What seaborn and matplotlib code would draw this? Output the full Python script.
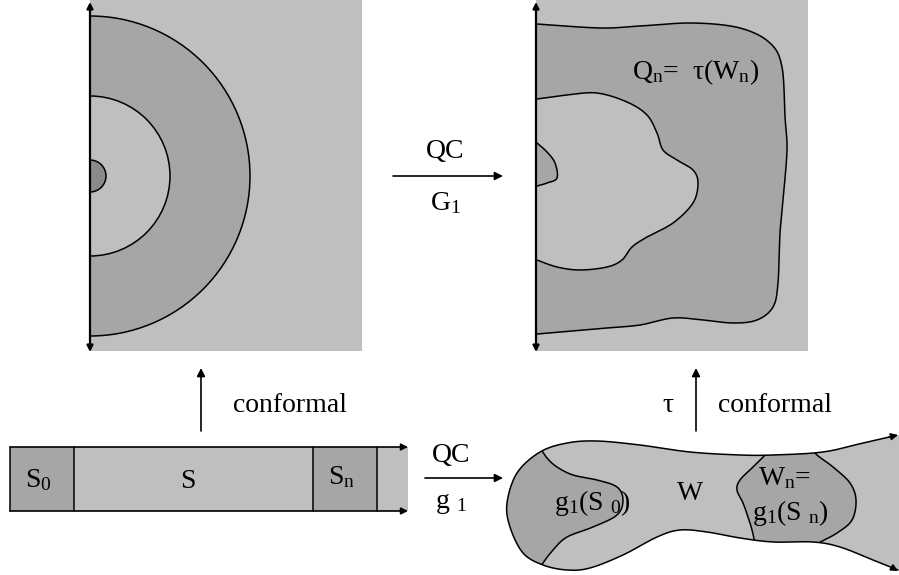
"""
Conformal / quasiconformal maps diagram: half-disc, strip, and their images.
"""
import numpy as np
import matplotlib.pyplot as plt
import seaborn as sns
from matplotlib.patches import Rectangle, Wedge, Polygon, FancyArrowPatch

sns.set_theme(style="white")
plt.rcParams['font.family'] = ['Liberation Serif', 'DejaVu Serif']
plt.rcParams['text.color'] = 'black'
plt.rcParams['mathtext.fontset'] = 'custom'
plt.rcParams['mathtext.rm'] = 'Liberation Serif'
plt.rcParams['mathtext.it'] = 'Liberation Serif:italic'

LIGHT = '#bfbfbf'
DARK = '#a6a6a6'
DARKEST = '#8a8a8a'

# ---- outline control points (pixel coordinates) ----
# top-left: half-disc radii, centre on the axis
half_disc_centre = (90, 176)
half_disc_radii = [160, 80, 16]

# top-right: image Q_n = tau(W_n)
q_outer = [(537, 24), (600, 28), (640, 26), (693, 23), (740, 28), (770, 43),
           (782, 67), (785, 117), (787, 150), (783, 200), (780, 233), (778, 283),
           (773, 307), (757, 320), (733, 323), (703, 320), (673, 318), (640, 325),
           (607, 328), (537, 334)]
q_inner = [(537, 99), (567, 95), (597, 93), (627, 102), (647, 115), (657, 133),
           (663, 150), (677, 160), (693, 170), (698, 183), (693, 203), (673, 223),
           (647, 237), (632, 247), (622, 260), (607, 267), (580, 270), (557, 267),
           (537, 260)]
q_small = [(537, 143), (547, 152), (555, 163), (557, 178), (547, 183), (537, 186)]

# bottom-left: strip cells (x edges)
strip_x = [10, 74, 313, 377, 408]
strip_y = (447, 511)

# bottom-right: domain W
w_outline = [(898, 435), (863, 443), (823, 452), (773, 455), (740, 455), (690, 452),
             (640, 445), (597, 441), (567, 443), (540, 452), (517, 473), (507, 503),
             (510, 527), (523, 553), (543, 565), (567, 570), (590, 568), (623, 555),
             (657, 537), (680, 530), (707, 532), (740, 538), (773, 542), (813, 542),
             (840, 547), (873, 560), (898, 570)]
g1s0_edge = [(540, 448), (547, 458), (557, 467), (573, 475), (597, 480), (617, 487),
             (623, 500), (617, 515), (593, 527), (567, 537), (553, 550), (543, 563),
             (538, 572)]
wn_left = [(770, 448), (765, 455), (753, 467), (740, 480), (737, 490), (743, 503),
           (748, 517), (752, 530), (755, 544), (756, 552)]
wn_right = [(812, 448), (817, 455), (833, 467), (850, 483), (856, 500), (852, 520),
            (837, 533), (817, 544), (812, 550)]


def smooth(pts, n=12):
    """Catmull-Rom curve through the control points."""
    p = np.asarray(pts, dtype=float)
    p = np.vstack([p[0], p, p[-1]])
    out = []
    for i in range(1, len(p) - 2):
        p0, p1, p2, p3 = p[i - 1], p[i], p[i + 1], p[i + 2]
        for t in np.linspace(0, 1, n, endpoint=False):
            t2, t3 = t * t, t * t * t
            out.append(0.5 * ((2 * p1) + (-p0 + p2) * t
                              + (2 * p0 - 5 * p1 + 4 * p2 - p3) * t2
                              + (-p0 + 3 * p1 - 3 * p2 + p3) * t3))
    out.append(p[-2])
    return np.array(out)


def arrow(ax, a, b, style='-|>', lw=1.2, ms=12):
    ax.add_patch(FancyArrowPatch(a, b, arrowstyle=style, mutation_scale=ms,
                                 lw=lw, color='black', shrinkA=0, shrinkB=0))


fig = plt.figure(figsize=(8.99, 5.75), dpi=100)
ax = fig.add_axes([0, 0, 1, 1])
ax.set_xlim(0, 899)
ax.set_ylim(575, 0)
ax.axis('off')

LW = 1.1
FS = 20

# ---------------- top-left panel ----------------
ax.add_patch(Rectangle((90, 0), 272, 351, color=LIGHT, lw=0))
for r, col in zip(half_disc_radii, [DARK, LIGHT, DARKEST]):
    ax.add_patch(Wedge(half_disc_centre, r, -90, 90, facecolor=col,
                       edgecolor='black', lw=LW))
arrow(ax, (90, 352), (90, 2), style='<|-|>', lw=1.6, ms=9)

# ---------------- top-right panel ----------------
ax.add_patch(Rectangle((536, 0), 272, 351, color=LIGHT, lw=0))
for pts, col in [(q_outer, DARK), (q_inner, LIGHT), (q_small, DARK)]:
    c = smooth(pts)
    ax.add_patch(Polygon(c, closed=True, facecolor=col, edgecolor='none'))
    ax.plot(c[:, 0], c[:, 1], color='black', lw=LW)
arrow(ax, (536, 352), (536, 2), style='<|-|>', lw=1.6, ms=9)
ax.text(696, 72, r'Q$_\mathrm{n}$=  τ(W$_\mathrm{n}$)', fontsize=FS,
        ha='center', va='center')

# top middle arrow
arrow(ax, (393, 176), (503, 176))
ax.text(445, 152, 'QC', fontsize=FS, ha='center', va='center')
ax.text(445, 203, r'G$_\mathrm{1}$', fontsize=FS, ha='center', va='center')

# ---------------- bottom-left strip ----------------
y0, y1 = strip_y
ax.add_patch(Rectangle((strip_x[0], y0), strip_x[-1] - strip_x[0], y1 - y0,
                       color=LIGHT, lw=0))
for xa, xb in [(strip_x[0], strip_x[1]), (strip_x[2], strip_x[3])]:
    ax.add_patch(Rectangle((xa, y0), xb - xa, y1 - y0, facecolor=DARK,
                           edgecolor='none'))
for x in strip_x[:4]:
    ax.plot([x, x], [y0, y1], color='black', lw=LW)
arrow(ax, (strip_x[0], y0), (strip_x[-1], y0), ms=10)
arrow(ax, (strip_x[0], y1), (strip_x[-1], y1), ms=10)
ax.text(38, 480, r'S$_\mathrm{0}$', fontsize=FS, ha='center', va='center')
ax.text(188, 481, 'S', fontsize=FS, ha='center', va='center')
ax.text(342, 477, r'S$_\mathrm{n}$', fontsize=FS, ha='center', va='center')

arrow(ax, (201, 431), (201, 368))
ax.text(233, 406, 'conformal', fontsize=FS, ha='left', va='center')

# bottom middle arrow
arrow(ax, (425, 478), (503, 478))
ax.text(451, 456, 'QC', fontsize=FS, ha='center', va='center')
ax.text(451, 503, r'g $_\mathrm{1}$', fontsize=FS, ha='center', va='center')

# ---------------- bottom-right domain W ----------------
w = smooth(w_outline)
w_poly = np.vstack([w, [[899, 570], [899, 435]]])
blob = Polygon(w_poly, closed=True, facecolor=LIGHT, edgecolor='none')
ax.add_patch(blob)

g_edge = smooth(g1s0_edge)
g_poly = np.vstack([g_edge, [[480, 572], [480, 448]]])
p = Polygon(g_poly, closed=True, facecolor=DARK, edgecolor='none')
ax.add_patch(p)
p.set_clip_path(blob)

wl, wr = smooth(wn_left), smooth(wn_right)
wn_poly = np.vstack([[[770, 420]], wl, [[756, 590], [812, 590]], wr[::-1], [[812, 420]]])
p = Polygon(wn_poly, closed=True, facecolor=DARK, edgecolor='none')
ax.add_patch(p)
p.set_clip_path(blob)

for c in (g_edge, wl, wr):
    line, = ax.plot(c[:, 0], c[:, 1], color='black', lw=LW)
    line.set_clip_path(blob)
ax.plot(w[1:, 0], w[1:, 1], color='black', lw=LW)
arrow(ax, tuple(w[4]), (898, 435), ms=10)
arrow(ax, tuple(w[-5]), (898, 571), ms=10)

ax.text(592, 503, r'g$_\mathrm{1}$(S $_\mathrm{0}$)', fontsize=FS, ha='center', va='center')
ax.text(690, 494, 'W', fontsize=FS, ha='center', va='center')
ax.text(785, 478, r'W$_\mathrm{n}$=', fontsize=FS, ha='center', va='center')
ax.text(790, 513, r'g$_\mathrm{1}$(S $_\mathrm{n}$)', fontsize=FS, ha='center', va='center')

arrow(ax, (696, 431), (696, 368))
ax.text(668, 406, 'τ', fontsize=FS, ha='center', va='center')
ax.text(718, 406, 'conformal', fontsize=FS, ha='left', va='center')

fig.savefig('out.png', dpi=100)
